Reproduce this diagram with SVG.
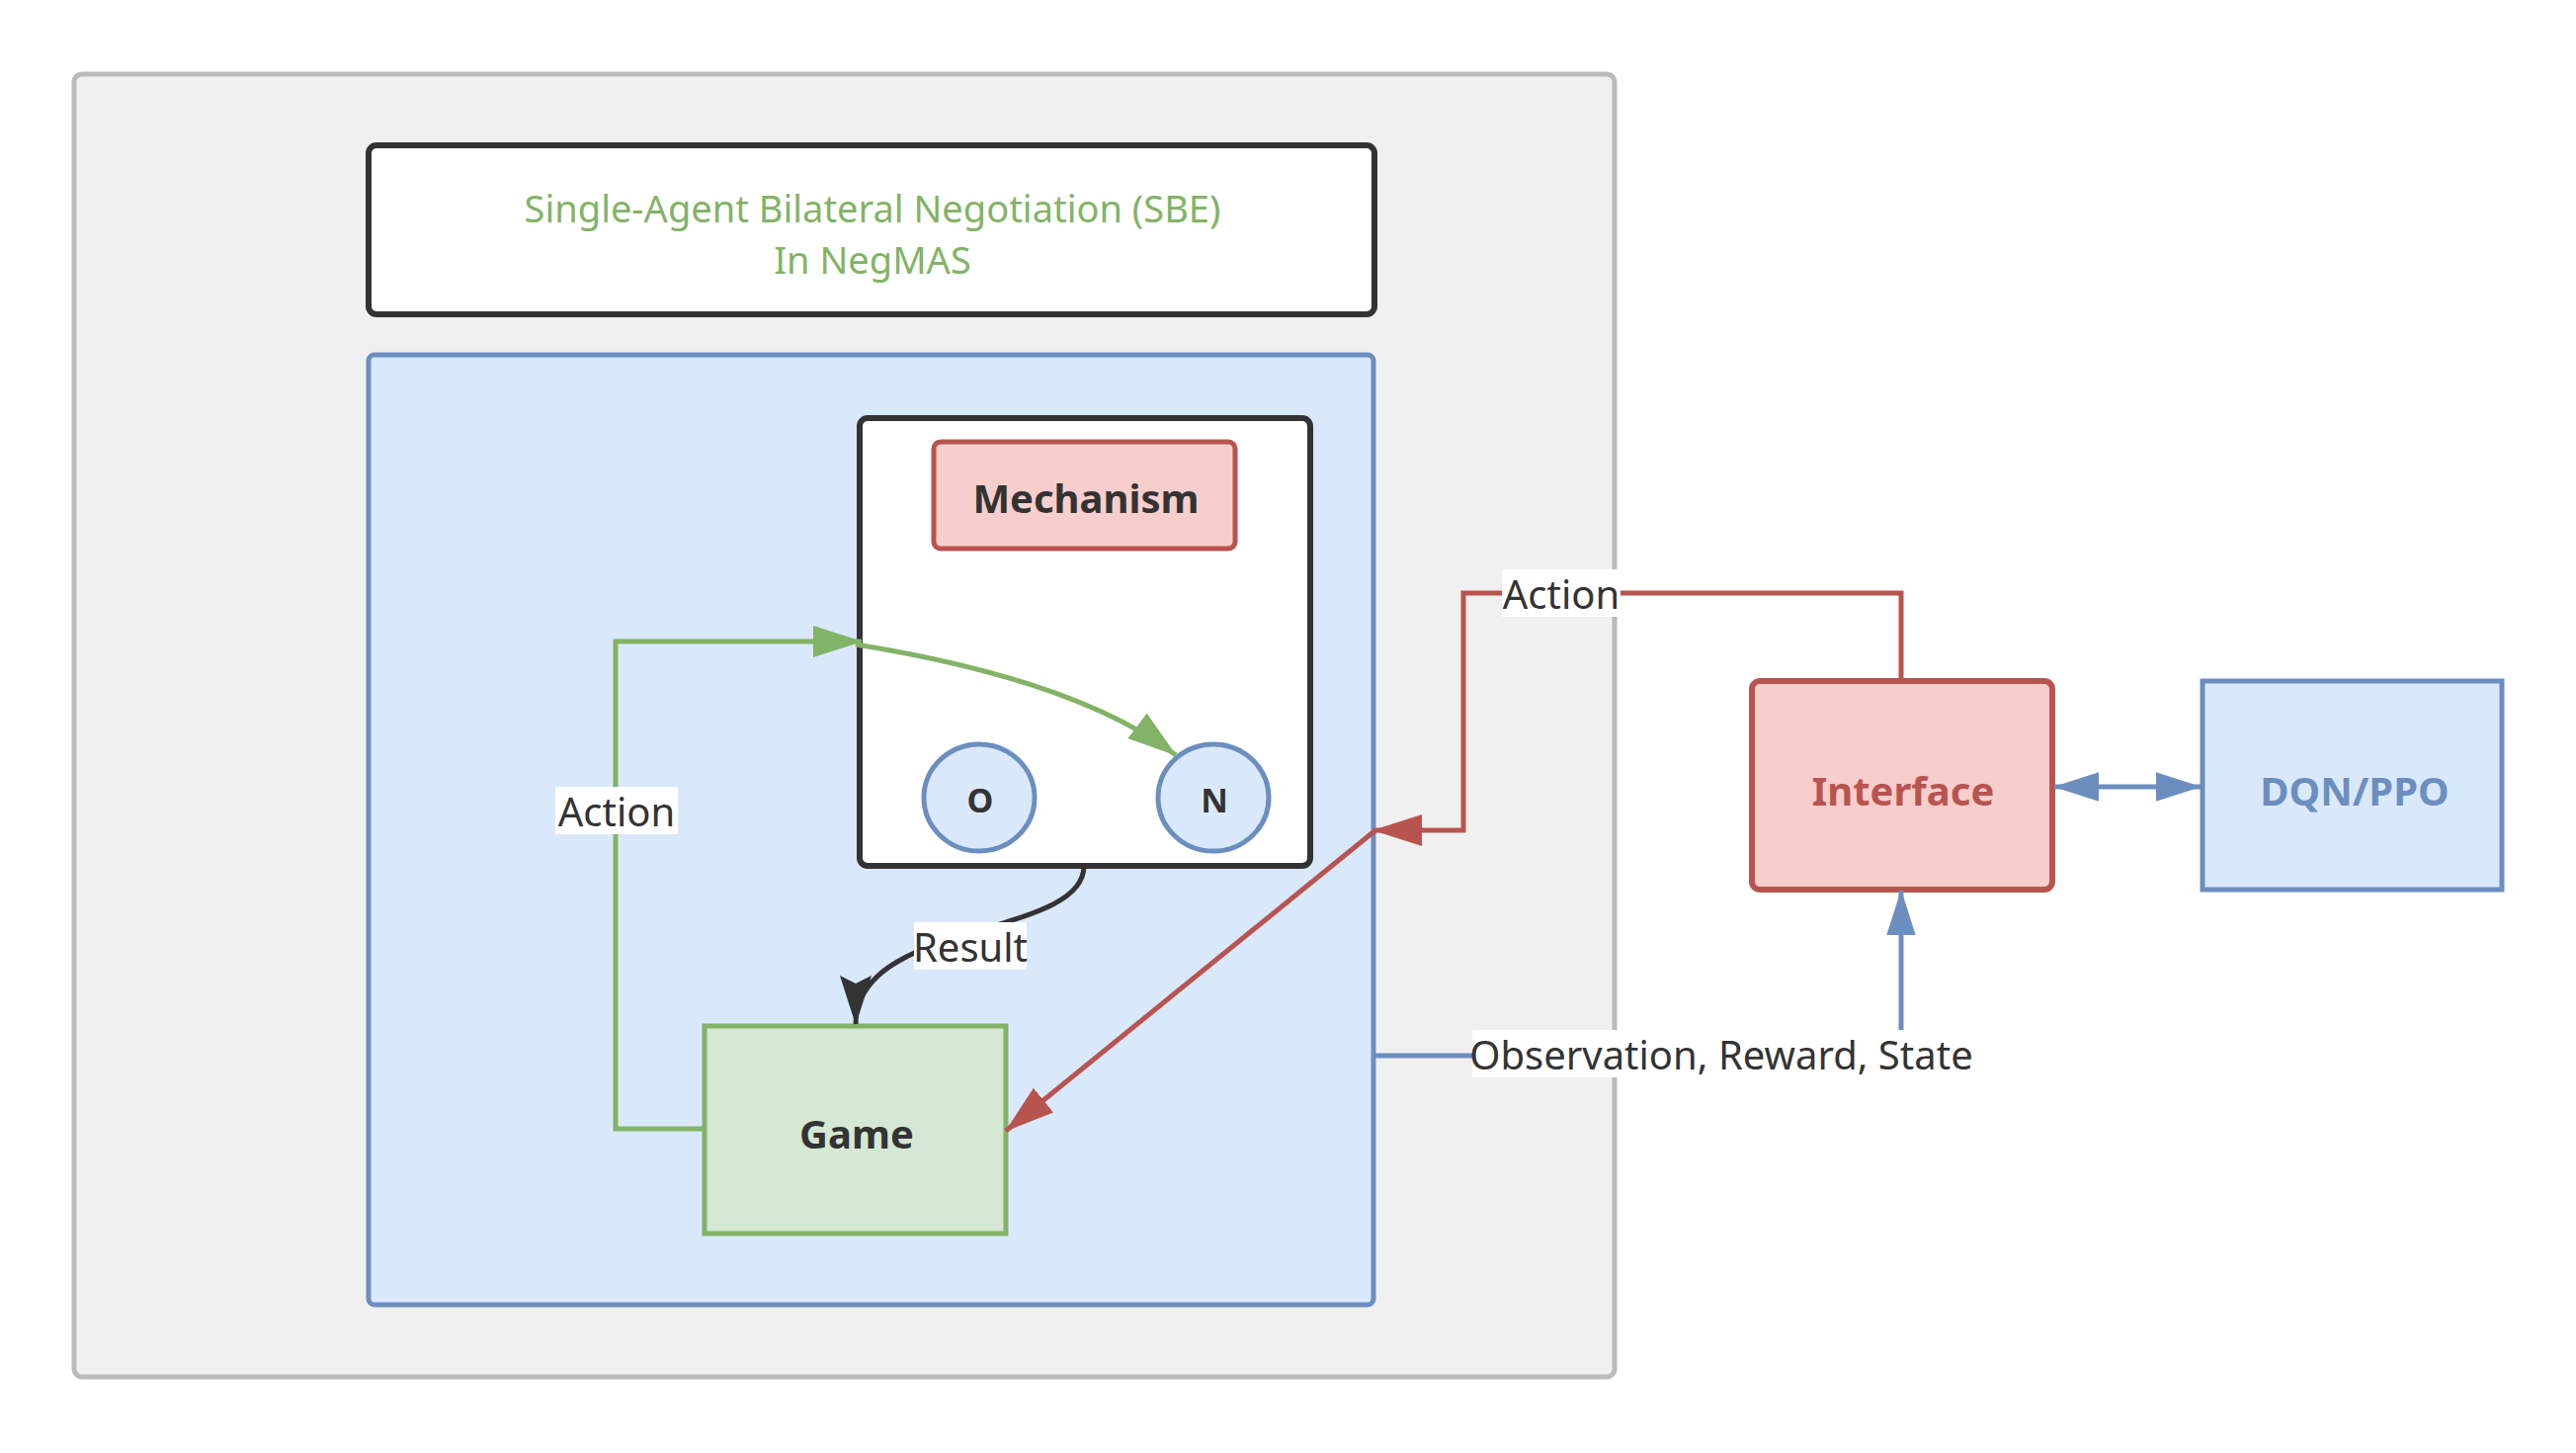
<svg xmlns="http://www.w3.org/2000/svg" width="2607" height="1470" viewBox="0 0 2607 1470">
<defs>
<style>
text{font-family:"Noto Sans","Open Sans","Liberation Sans",sans-serif;fill:#333333;text-anchor:middle;dominant-baseline:central}
.lbl{font-size:40px}
.bold{font-weight:bold;font-size:40px}
.edge{fill:none;stroke-width:5}
</style>
<marker id="arG" viewBox="0 0 50 32" refX="49" refY="16" markerWidth="50" markerHeight="32" markerUnits="userSpaceOnUse" orient="auto"><path d="M0 0 L50 16 L0 32 Z" fill="#82b366"/></marker>
<marker id="arR" viewBox="0 0 50 32" refX="49" refY="16" markerWidth="50" markerHeight="32" markerUnits="userSpaceOnUse" orient="auto"><path d="M0 0 L50 16 L0 32 Z" fill="#b85450"/></marker>
<marker id="arK" viewBox="0 0 50 32" refX="49" refY="16" markerWidth="50" markerHeight="32" markerUnits="userSpaceOnUse" orient="auto"><path d="M0 0 L50 16 L0 32 L8 16 Z" fill="#333333"/></marker>
<marker id="arB" viewBox="0 0 50 32" refX="49" refY="16" markerWidth="46" markerHeight="32" markerUnits="userSpaceOnUse" orient="auto-start-reverse"><path d="M0 0 L50 16 L0 32 Z" fill="#6c8ebf"/></marker>
</defs>
<rect width="2607" height="1470" fill="#ffffff"/>
<g id="outer"><rect x="75" y="75" width="1559" height="1318" rx="8" fill="#f0f0f0" stroke="#bbbbbb" stroke-width="5"/></g>
<g id="title"><rect x="373" y="147" width="1018" height="171" rx="8" fill="#ffffff" stroke="#333333" stroke-width="6"/>
<text x="883" y="210" class="lbl" style="fill:#82b366;font-size:38px">Single-Agent Bilateral Negotiation (SBE)</text>
<text x="883" y="262" class="lbl" style="fill:#82b366;font-size:38px">In NegMAS</text></g>
<g id="env"><rect x="373" y="359" width="1017" height="961" rx="6" fill="#dae8fc" stroke="#6c8ebf" stroke-width="5"/></g>
<g id="mechbox"><rect x="870" y="423" width="456" height="453" rx="8" fill="#ffffff" stroke="#333333" stroke-width="6"/></g>
<g id="mechanism"><rect x="945" y="447" width="305" height="108" rx="7" fill="#f8cecc" stroke="#b85450" stroke-width="5"/><text x="1099" y="503" class="bold">Mechanism</text></g>
<g id="nodeO"><ellipse cx="991" cy="807" rx="56" ry="54" fill="#dae8fc" stroke="#6c8ebf" stroke-width="5"/><text x="992" y="809" class="bold" style="font-size:34px">O</text></g>
<g id="nodeN"><ellipse cx="1228" cy="807" rx="56" ry="54" fill="#dae8fc" stroke="#6c8ebf" stroke-width="5"/><text x="1229" y="809" class="bold" style="font-size:34px">N</text></g>
<g id="game"><rect x="713" y="1038" width="305" height="210" fill="#d5e8d4" stroke="#82b366" stroke-width="5"/><text x="867" y="1146" class="bold">Game</text></g>
<g id="interface"><rect x="1773" y="689" width="304" height="211" rx="8" fill="#f8cecc" stroke="#b85450" stroke-width="6"/><text x="1926" y="799" class="bold" style="fill:#b85450">Interface</text></g>
<g id="dqn"><rect x="2229" y="689" width="303" height="211" fill="#dae8fc" stroke="#6c8ebf" stroke-width="5"/><text x="2383" y="799" class="bold" style="fill:#6c8ebf">DQN/PPO</text></g>
<g id="connectors">
<path class="edge" stroke="#82b366" d="M713 1142 H623 V649 H872" marker-end="url(#arG)"/>
<path class="edge" stroke="#82b366" d="M866 652 Q1090 688 1190 764" marker-end="url(#arG)"/>
<path class="edge" stroke="#333333" d="M1097 876 C1097 950 866 930 866 1036" marker-end="url(#arK)"/>
<path class="edge" stroke="#b85450" d="M1924 689 V600 H1481 V840 H1390" marker-end="url(#arR)"/>
<path class="edge" stroke="#b85450" d="M1392 840 L1018 1144" marker-end="url(#arR)"/>
<path class="edge" stroke="#6c8ebf" d="M2079 796 H2227" marker-start="url(#arB)" marker-end="url(#arB)"/>
<path class="edge" stroke="#6c8ebf" d="M1390 1068 H1924 V901" marker-end="url(#arB)"/>
<rect x="562" y="796" width="124" height="48" fill="#ffffff"/><text x="624" y="820" class="lbl">Action</text>
<rect x="925" y="933" width="114" height="48" fill="#ffffff"/><text x="982" y="957" class="lbl">Result</text>
<rect x="1520" y="576" width="120" height="48" fill="#ffffff"/><text x="1580" y="600" class="lbl">Action</text>
<rect x="1490" y="1042" width="505" height="48" fill="#ffffff"/><text x="1742" y="1066" class="lbl">Observation, Reward, State</text>
</g>
</svg>
